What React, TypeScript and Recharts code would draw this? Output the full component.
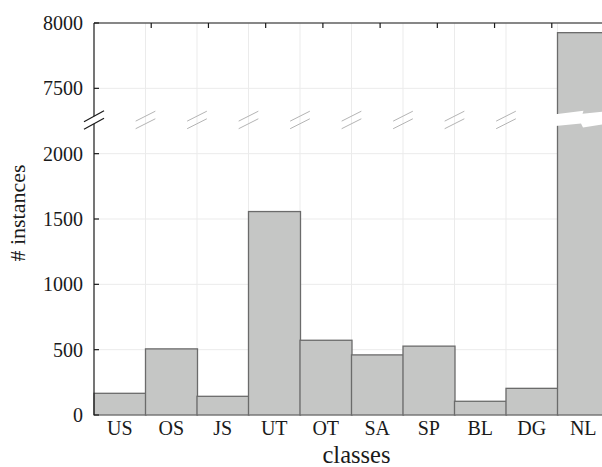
import React from 'react';
import { BarChart, Bar, XAxis, YAxis, CartesianGrid, ReferenceLine } from 'recharts';

const CLASSES = ['US', 'OS', 'JS', 'UT', 'OT', 'SA', 'SP', 'BL', 'DG', 'NL'];
const COUNTS = [166, 506, 143, 1557, 572, 460, 527, 105, 204, 7926];
const Y_TICKS = [0, 500, 1000, 1500, 2000, 7500, 8000];
const TOP_TICKS = [1, 2, 3, 4, 5, 6, 7, 8];
const TOP_MAX = 9;

// the y axis is cut: values above the break are drawn SKIP lower
const SKIP = 5000;
const BREAK = 2258;
const GAP_LO = 2229;
const GAP_HI = 2287;

const plotted = (v: number) => (v > BREAK ? v - SKIP : v);
const shownLabel = (v: number) => (v > BREAK ? v + SKIP : v);

const data = CLASSES.map((name, i) => ({ name, count: COUNTS[i], shown: plotted(COUNTS[i]) }));

const FONT = 'Liberation Serif';
const INK = '#1a1a1a';
const BAR_FILL = '#c5c6c5';
const BAR_STROKE = '#6b6b6b';

// cell boundary i expressed on the top axis (0..TOP_MAX across the plot)
const cellX = (i: number) => (i * TOP_MAX) / CLASSES.length;

function BarShape(props: any) {
  const { x, y, width, height, payload } = props;
  const rect = (
    <rect x={x} y={y} width={width} height={height} fill={BAR_FILL} stroke={BAR_STROKE} strokeWidth={1.3} />
  );
  if (payload.shown < BREAK) return rect;
  // white zigzag where the bar crosses the cut
  const yb = y + height * (1 - BREAK / payload.shown);
  const pts = [
    [x - 2, yb - 5.6], [x + 26, yb - 9.2], [x + 25, yb - 6.2], [x + width + 2, yb - 9.1],
    [x + width + 2, yb + 3.2], [x + 25.5, yb + 7.5], [x + 23.5, yb + 3.5], [x - 2, yb + 6],
  ].map((p) => p.join(',')).join(' ');
  return (
    <g>
      {rect}
      <polygon points={pts} fill="#ffffff" />
    </g>
  );
}

function YTick(props: any) {
  const { x, y, payload } = props;
  return (
    <text x={x} y={y} dy="0.355em" textAnchor="end" fontFamily={FONT} fontSize={20} fill={INK}>
      {shownLabel(payload.value)}
    </text>
  );
}

// slanted double marks at the cut, one pair per cell boundary
const gridMarks: any[] = [];
for (let i = 1; i <= 8; i++) {
  [GAP_HI, GAP_LO].forEach((yc) => {
    gridMarks.push({
      key: `m${i}-${yc}`,
      segment: [{ x: cellX(i) - 0.172, y: yc - 38 }, { x: cellX(i) + 0.172, y: yc + 38 }],
    });
  });
}
const axisMarks = [GAP_HI, GAP_LO].map((yc) => ({
  key: `a${yc}`,
  segment: [{ x: -0.175, y: yc - 42 }, { x: 0.175, y: yc + 42 }],
}));

export default function App() {
  return (
    <div
      style={{
        position: 'absolute', left: 0, top: 0, width: 602, height: 467,
        overflow: 'hidden', background: '#fff', fontFamily: FONT,
      }}
    >
      <BarChart
        width={640}
        height={467}
        data={data}
        margin={{ top: 22, right: 31, left: 0, bottom: 0 }}
        barCategoryGap={0}
        style={{ fontFamily: FONT }}
      >
        <CartesianGrid
          stroke="#ebebeb"
          strokeWidth={1}
          verticalCoordinatesGenerator={({ offset }: any) =>
            CLASSES.slice(1).map((_, i) => offset.left + (offset.width * (i + 1)) / CLASSES.length)
          }
        />
        <XAxis
          dataKey="name"
          interval={0}
          axisLine={false}
          tickLine={false}
          tickSize={0}
          tickMargin={6}
          height={52}
          tick={{ fontFamily: FONT, fontSize: 20, fill: INK }}
          label={{ value: 'classes', position: 'insideBottom', offset: 4, dx: 5, fontFamily: FONT, fontSize: 24.5, fill: INK }}
        />
        <XAxis
          xAxisId="top"
          orientation="top"
          type="number"
          domain={[0, TOP_MAX]}
          allowDataOverflow
          ticks={TOP_TICKS}
          height={1}
          tickSize={-5}
          tick={() => <g />}
          axisLine={{ stroke: INK, strokeWidth: 1.2 }}
          tickLine={{ stroke: INK, strokeWidth: 1.2 }}
        />
        <YAxis
          type="number"
          domain={[0, 3000]}
          ticks={Y_TICKS.map(plotted)}
          width={94}
          axisLine={false}
          tickSize={-5}
          tickMargin={16}
          tickLine={{ stroke: INK, strokeWidth: 1.2 }}
          tick={<YTick />}
          label={{
            value: '# instances',
            angle: -90,
            position: 'insideLeft',
            offset: 17,
            dy: -6,
            fontFamily: FONT,
            fontSize: 22,
            fill: INK,
            style: { textAnchor: 'middle', fontFamily: FONT },
          }}
        />
        <ReferenceLine xAxisId="top" segment={[{ x: 0, y: 0 }, { x: 0, y: GAP_LO }]} stroke={INK} strokeWidth={1.2} ifOverflow="visible" />
        <ReferenceLine xAxisId="top" segment={[{ x: 0, y: GAP_HI }, { x: 0, y: 3000 }]} stroke={INK} strokeWidth={1.2} ifOverflow="visible" />
        <Bar dataKey="shown" isAnimationActive={false} shape={(p: any) => <BarShape {...p} />} />
        {gridMarks.map((m) => (
          <ReferenceLine key={m.key} xAxisId="top" segment={m.segment} stroke="#b4b4b4" strokeWidth={1} ifOverflow="visible" />
        ))}
        {axisMarks.map((m) => (
          <ReferenceLine key={m.key} xAxisId="top" segment={m.segment} stroke={INK} strokeWidth={1.2} ifOverflow="visible" />
        ))}
      </BarChart>
    </div>
  );
}
